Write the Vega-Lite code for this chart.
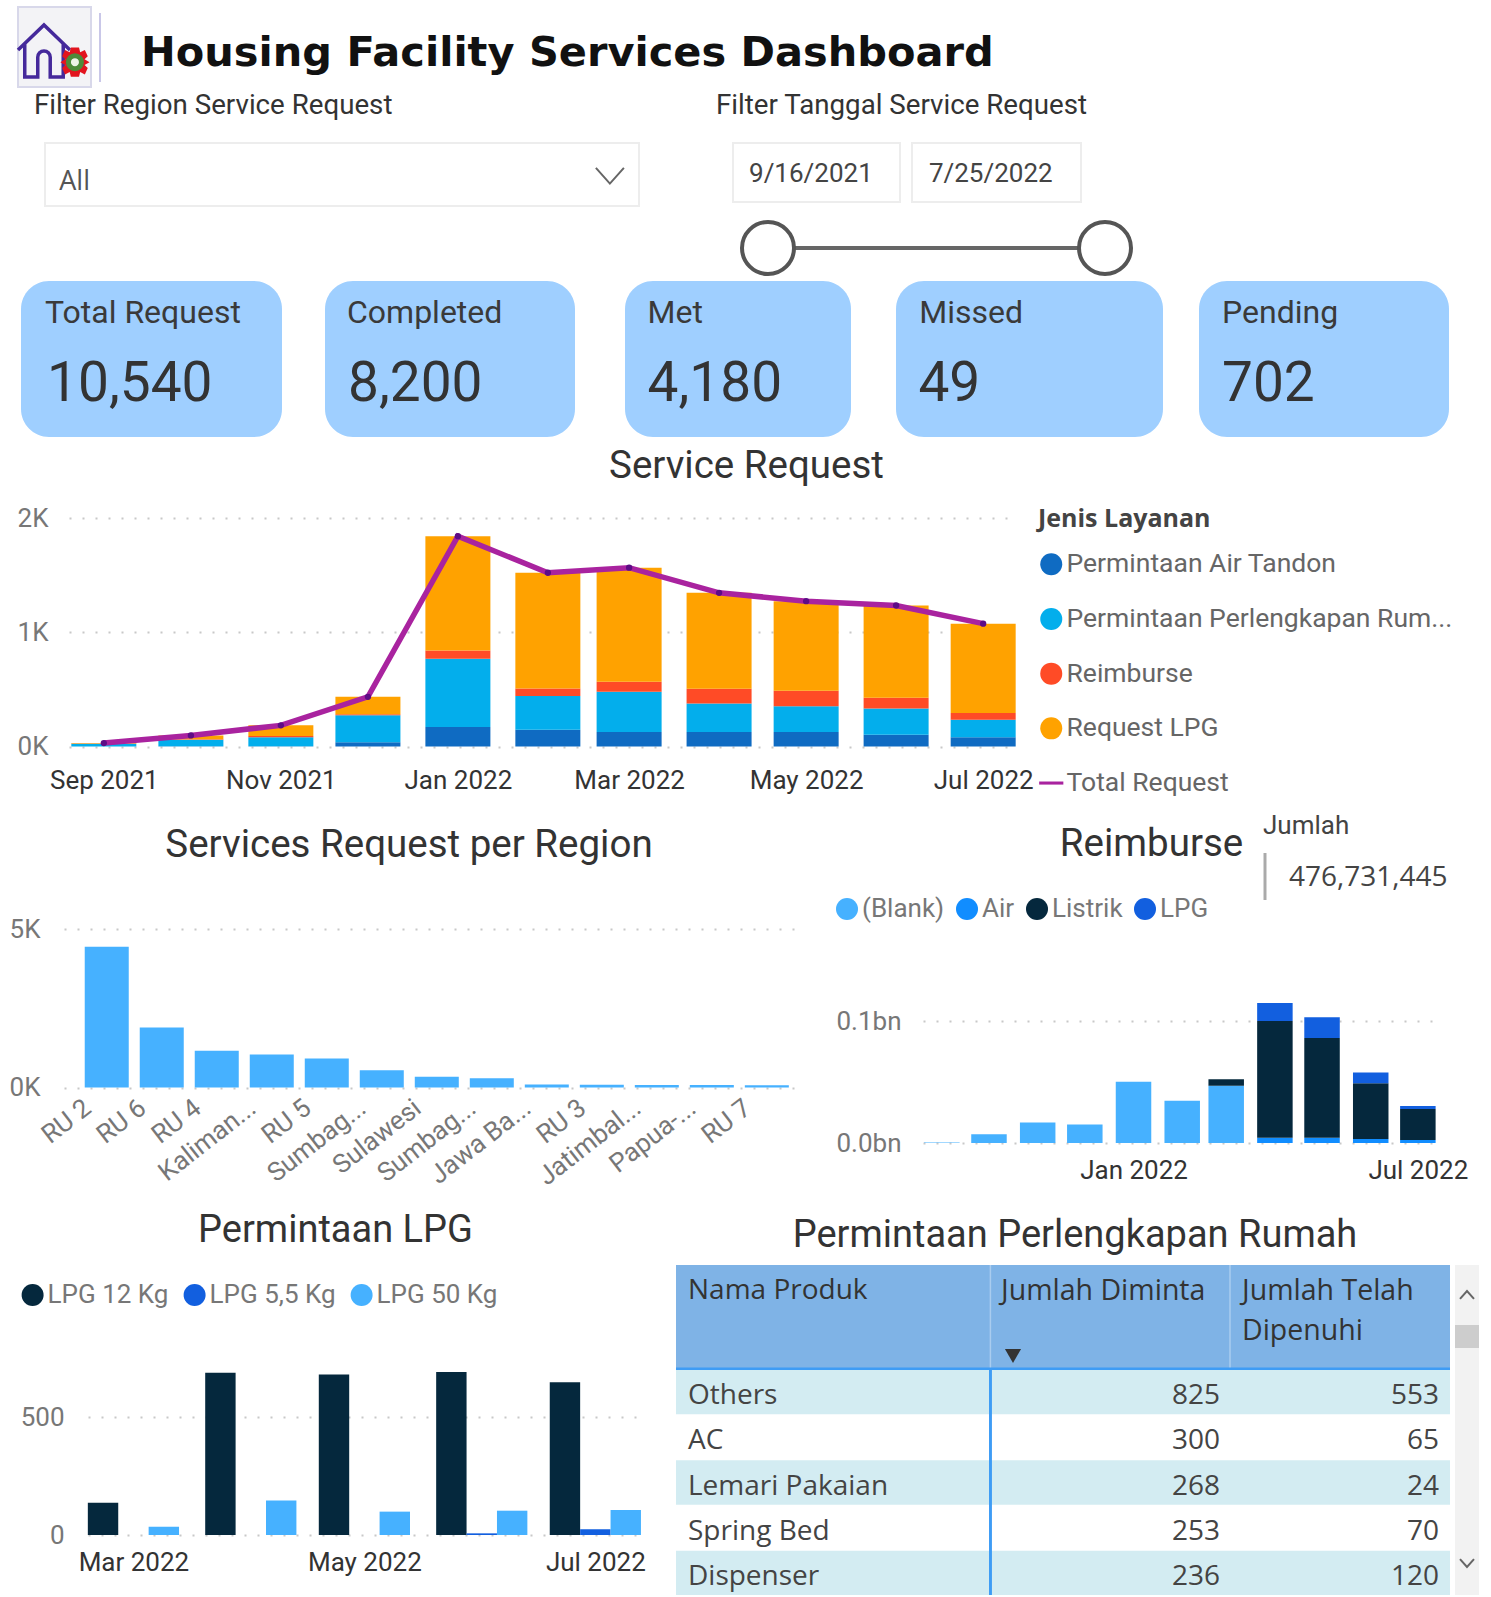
{"$schema":"https://vega.github.io/schema/vega-lite/v6.json","padding":0,"background":"white","bounds":"flush","align":"none","spacing":0,"resolve":{"scale":{"color":"independent"},"legend":{"color":"independent"}},"config":{"view":{"stroke":null},"concat":{"spacing":0},"axis":{"domain":false,"ticks":false,"title":null,"labelFont":"Roboto","labelFontSize":26,"labelColor":"#444","gridDash":[2,11],"gridColor":"#c8c8c8","gridWidth":2,"labelOverlap":false},"legend":{"labelFont":"Roboto","labelFontSize":26,"labelColor":"#666","symbolOpacity":1},"title":{"font":"Roboto","fontSize":38.5,"fontWeight":"normal","color":"#333"}},
"vconcat":[
{"width":1,"height":7,"data":{"values":[]},"mark":"point"},
{"hconcat":[{"width":18,"height":1,"data":{"values":[]},"mark":"point"},
{"width":73,"height":80,"view":{"fill":"#F3F3F6","stroke":"#D8D8EA","strokeWidth":2},"data":{"values":[{"n":"home"}]},"layer":[
{"mark":{"type":"point","shape":"M-0.5,-0.02 L0,-0.5 L0.5,-0.02 M-0.37,-0.14 V0.5 H-0.12 V0.12 A0.12,0.12 0 0 1 0.12,0.12 V0.5 H0.37 V-0.14","filled":false,"stroke":"#45299B","strokeWidth":3.5,"size":10816,"opacity":1},"encoding":{"x":{"datum":0.356,"scale":{"domain":[0,1]},"axis":null},"y":{"datum":0.55,"scale":{"domain":[1,0]},"axis":null}}},
{"mark":{"type":"point","shape":"M-0.14,-0.5 H0.14 L0.18,-0.34 L0.34,-0.42 L0.44,-0.2 L0.33,-0.1 L0.5,0 L0.33,0.1 L0.44,0.2 L0.34,0.42 L0.18,0.34 L0.14,0.5 H-0.14 L-0.18,0.34 L-0.34,0.42 L-0.44,0.2 L-0.33,0.1 L-0.5,0 L-0.33,-0.1 L-0.44,-0.2 L-0.34,-0.42 L-0.18,-0.34 Z","filled":true,"fill":"#E2141E","size":3400,"opacity":1},"encoding":{"x":{"datum":0.78,"scale":{"domain":[0,1]},"axis":null},"y":{"datum":0.69,"scale":{"domain":[1,0]},"axis":null}}},
{"mark":{"type":"point","filled":true,"fill":"#EEF3E8","stroke":"#4E8B3A","strokeWidth":5,"size":170,"opacity":1},"encoding":{"x":{"datum":0.78,"scale":{"domain":[0,1]},"axis":null},"y":{"datum":0.69,"scale":{"domain":[1,0]},"axis":null}}}]},
{"width":50,"height":1,"data":{"values":[]},"mark":"point"},
{"width":900,"height":94,"data":{"values":[{"t":"Housing Facility Services Dashboard"}]},"mark":{"type":"text","align":"left","baseline":"middle","font":"DejaVu Sans","fontWeight":"bold","fontSize":41.5,"color":"#111"},"encoding":{"text":{"field":"t"},"x":{"datum":0,"scale":{"domain":[0,1]},"axis":null},"y":{"datum":0.5,"scale":{"domain":[0,1]},"axis":null}}}],"bounds":"flush","align":"none"},
{"width":1,"height":6,"data":{"values":[]},"mark":"point"},
{"hconcat":[{"width":99,"height":1,"data":{"values":[]},"mark":"point"},{"width":2,"height":69,"view":{"fill":"#C9C7E8"},"data":{"values":[]},"mark":"point"}],"bounds":"flush","align":"none"},
{"width":1,"height":74,"data":{"values":[]},"mark":"point"},
{"hconcat":[{"width":34,"height":1,"data":{"values":[]},"mark":"point"},
{"width":682,"height":38,"data":{"values":[{"t":"Filter Region Service Request"}]},"mark":{"type":"text","align":"left","baseline":"middle","font":"Roboto","fontSize":27.7,"color":"#333"},"encoding":{"text":{"field":"t"},"x":{"datum":0,"scale":{"domain":[0,1]},"axis":null},"y":{"datum":0.5,"scale":{"domain":[0,1]},"axis":null}}},
{"width":400,"height":38,"data":{"values":[{"t":"Filter Tanggal Service Request"}]},"mark":{"type":"text","align":"left","baseline":"middle","font":"Roboto","fontSize":27.7,"color":"#333"},"encoding":{"text":{"field":"t"},"x":{"datum":0,"scale":{"domain":[0,1]},"axis":null},"y":{"datum":0.5,"scale":{"domain":[0,1]},"axis":null}}}],"bounds":"flush","align":"none"},
{"width":1,"height":56,"data":{"values":[]},"mark":"point"},
{"hconcat":[{"width":45,"height":1,"data":{"values":[]},"mark":"point"},
{"width":594,"height":63,"view":{"fill":"#fff","stroke":"#EDEDED","strokeWidth":2},"data":{"values":[{"t":"All"}]},"layer":[
{"mark":{"type":"text","align":"left","baseline":"middle","font":"Open Sans","fontSize":27,"color":"#555"},"encoding":{"text":{"field":"t"},"x":{"datum":0.024,"scale":{"domain":[0,1]},"axis":null},"y":{"datum":0.62,"scale":{"domain":[1,0]},"axis":null}}},
{"mark":{"type":"point","shape":"M-0.5,-0.28 L0,0.28 L0.5,-0.28","filled":false,"stroke":"#666","strokeWidth":2,"size":3136,"opacity":1},"encoding":{"x":{"datum":0.951,"scale":{"domain":[0,1]},"axis":null},"y":{"datum":0.52,"scale":{"domain":[1,0]},"axis":null}}}]},
{"width":94,"height":1,"data":{"values":[]},"mark":"point"},
{"width":167,"height":59,"view":{"fill":"#fff","stroke":"#EDEDED","strokeWidth":2},"data":{"values":[{"t":"9/16/2021"}]},"mark":{"type":"text","align":"left","baseline":"middle","font":"Roboto","fontSize":26,"color":"#444"},"encoding":{"text":{"field":"t"},"x":{"datum":0.096,"scale":{"domain":[0,1]},"axis":null},"y":{"datum":0.53,"scale":{"domain":[1,0]},"axis":null}}},
{"width":12,"height":1,"data":{"values":[]},"mark":"point"},
{"width":169,"height":59,"view":{"fill":"#fff","stroke":"#EDEDED","strokeWidth":2},"data":{"values":[{"t":"7/25/2022"}]},"mark":{"type":"text","align":"left","baseline":"middle","font":"Roboto","fontSize":26,"color":"#444"},"encoding":{"text":{"field":"t"},"x":{"datum":0.1,"scale":{"domain":[0,1]},"axis":null},"y":{"datum":0.53,"scale":{"domain":[1,0]},"axis":null}}}],"bounds":"flush","align":"none"},
{"width":1,"height":63,"data":{"values":[]},"mark":"point"},
{"hconcat":[{"width":768,"height":1,"data":{"values":[]},"mark":"point"},
{"width":337,"height":75,"data":{"values":[{"tanggal":"2021-09-16"},{"tanggal":"2022-07-25"}]},"layer":[
{"mark":{"type":"line","color":"#666","strokeWidth":4},"encoding":{"x":{"field":"tanggal","type":"temporal","scale":{"type":"utc","domain":["2021-09-16","2022-07-25"]},"axis":null},"y":{"datum":0.56,"scale":{"domain":[1,0]},"axis":null}}},
{"mark":{"type":"point","filled":true,"fill":"#fff","stroke":"#555","strokeWidth":4,"size":2704,"opacity":1},"encoding":{"x":{"field":"tanggal","type":"temporal","scale":{"type":"utc","domain":["2021-09-16","2022-07-25"]},"axis":null},"y":{"datum":0.56,"scale":{"domain":[1,0]},"axis":null}}}]}],"bounds":"flush","align":"none"},
{"width":1,"height":75,"data":{"values":[]},"mark":"point"},
{"hconcat":[{"width":21,"height":1,"data":{"values":[]},"mark":"point"},
{"width":261,"height":156,"view":{"fill":"#9FCFFF","cornerRadius":28},"data":{"values":[{"k":"Total Request","v":"10,540"}]},"layer":[
{"mark":{"type":"text","align":"left","baseline":"middle","font":"Roboto","fontSize":32,"color":"#3a3a3a"},"encoding":{"text":{"field":"k"},"x":{"datum":0.092,"scale":{"domain":[0,1]},"axis":null},"y":{"datum":0.205,"scale":{"domain":[1,0]},"axis":null}}},
{"mark":{"type":"text","align":"left","baseline":"middle","font":"Roboto","fontSize":55,"color":"#333"},"encoding":{"text":{"field":"v"},"x":{"datum":0.1,"scale":{"domain":[0,1]},"axis":null},"y":{"datum":0.66,"scale":{"domain":[1,0]},"axis":null}}}]},
{"width":43,"height":1,"data":{"values":[]},"mark":"point"},
{"width":250,"height":156,"view":{"fill":"#9FCFFF","cornerRadius":28},"data":{"values":[{"k":"Completed","v":"8,200"}]},"layer":[
{"mark":{"type":"text","align":"left","baseline":"middle","font":"Roboto","fontSize":32,"color":"#3a3a3a"},"encoding":{"text":{"field":"k"},"x":{"datum":0.088,"scale":{"domain":[0,1]},"axis":null},"y":{"datum":0.205,"scale":{"domain":[1,0]},"axis":null}}},
{"mark":{"type":"text","align":"left","baseline":"middle","font":"Roboto","fontSize":55,"color":"#333"},"encoding":{"text":{"field":"v"},"x":{"datum":0.092,"scale":{"domain":[0,1]},"axis":null},"y":{"datum":0.66,"scale":{"domain":[1,0]},"axis":null}}}]},
{"width":50,"height":1,"data":{"values":[]},"mark":"point"},
{"width":226,"height":156,"view":{"fill":"#9FCFFF","cornerRadius":28},"data":{"values":[{"k":"Met","v":"4,180"}]},"layer":[
{"mark":{"type":"text","align":"left","baseline":"middle","font":"Roboto","fontSize":32,"color":"#3a3a3a"},"encoding":{"text":{"field":"k"},"x":{"datum":0.1,"scale":{"domain":[0,1]},"axis":null},"y":{"datum":0.205,"scale":{"domain":[1,0]},"axis":null}}},
{"mark":{"type":"text","align":"left","baseline":"middle","font":"Roboto","fontSize":55,"color":"#333"},"encoding":{"text":{"field":"v"},"x":{"datum":0.1,"scale":{"domain":[0,1]},"axis":null},"y":{"datum":0.66,"scale":{"domain":[1,0]},"axis":null}}}]},
{"width":45,"height":1,"data":{"values":[]},"mark":"point"},
{"width":267,"height":156,"view":{"fill":"#9FCFFF","cornerRadius":28},"data":{"values":[{"k":"Missed","v":"49"}]},"layer":[
{"mark":{"type":"text","align":"left","baseline":"middle","font":"Roboto","fontSize":32,"color":"#3a3a3a"},"encoding":{"text":{"field":"k"},"x":{"datum":0.087,"scale":{"domain":[0,1]},"axis":null},"y":{"datum":0.205,"scale":{"domain":[1,0]},"axis":null}}},
{"mark":{"type":"text","align":"left","baseline":"middle","font":"Roboto","fontSize":55,"color":"#333"},"encoding":{"text":{"field":"v"},"x":{"datum":0.084,"scale":{"domain":[0,1]},"axis":null},"y":{"datum":0.66,"scale":{"domain":[1,0]},"axis":null}}}]},
{"width":36,"height":1,"data":{"values":[]},"mark":"point"},
{"width":250,"height":156,"view":{"fill":"#9FCFFF","cornerRadius":28},"data":{"values":[{"k":"Pending","v":"702"}]},"layer":[
{"mark":{"type":"text","align":"left","baseline":"middle","font":"Roboto","fontSize":32,"color":"#3a3a3a"},"encoding":{"text":{"field":"k"},"x":{"datum":0.092,"scale":{"domain":[0,1]},"axis":null},"y":{"datum":0.205,"scale":{"domain":[1,0]},"axis":null}}},
{"mark":{"type":"text","align":"left","baseline":"middle","font":"Roboto","fontSize":55,"color":"#333"},"encoding":{"text":{"field":"v"},"x":{"datum":0.092,"scale":{"domain":[0,1]},"axis":null},"y":{"datum":0.66,"scale":{"domain":[1,0]},"axis":null}}}]}],"bounds":"flush","align":"none"},
{"width":1,"height":237,"data":{"values":[]},"mark":"point"},
{"hconcat":[{"width":69,"height":1,"data":{"values":[]},"mark":"point"},
{"width":949,"height":228.5,"title":{"text":"Service Request","anchor":"middle","dx":203,"offset":19},"layer":[
{"data":{"values":[
{"bulan":"2021-09-01","jenis":"Permintaan Air Tandon","jumlah":1},{"bulan":"2021-09-01","jenis":"Permintaan Perlengkapan Rumah","jumlah":24},{"bulan":"2021-09-01","jenis":"Reimburse","jumlah":1},{"bulan":"2021-09-01","jenis":"Request LPG","jumlah":4},
{"bulan":"2021-10-01","jenis":"Permintaan Air Tandon","jumlah":2},{"bulan":"2021-10-01","jenis":"Permintaan Perlengkapan Rumah","jumlah":58},{"bulan":"2021-10-01","jenis":"Reimburse","jumlah":3},{"bulan":"2021-10-01","jenis":"Request LPG","jumlah":34},
{"bulan":"2021-11-01","jenis":"Permintaan Air Tandon","jumlah":3},{"bulan":"2021-11-01","jenis":"Permintaan Perlengkapan Rumah","jumlah":79},{"bulan":"2021-11-01","jenis":"Reimburse","jumlah":9},{"bulan":"2021-11-01","jenis":"Request LPG","jumlah":94},
{"bulan":"2021-12-01","jenis":"Permintaan Air Tandon","jumlah":38},{"bulan":"2021-12-01","jenis":"Permintaan Perlengkapan Rumah","jumlah":235},{"bulan":"2021-12-01","jenis":"Reimburse","jumlah":9},{"bulan":"2021-12-01","jenis":"Request LPG","jumlah":153},
{"bulan":"2022-01-01","jenis":"Permintaan Air Tandon","jumlah":170},{"bulan":"2022-01-01","jenis":"Permintaan Perlengkapan Rumah","jumlah":597},{"bulan":"2022-01-01","jenis":"Reimburse","jumlah":73},{"bulan":"2022-01-01","jenis":"Request LPG","jumlah":1001},
{"bulan":"2022-02-01","jenis":"Permintaan Air Tandon","jumlah":147},{"bulan":"2022-02-01","jenis":"Permintaan Perlengkapan Rumah","jumlah":294},{"bulan":"2022-02-01","jenis":"Reimburse","jumlah":67},{"bulan":"2022-02-01","jenis":"Request LPG","jumlah":1013},
{"bulan":"2022-03-01","jenis":"Permintaan Air Tandon","jumlah":126},{"bulan":"2022-03-01","jenis":"Permintaan Perlengkapan Rumah","jumlah":353},{"bulan":"2022-03-01","jenis":"Reimburse","jumlah":88},{"bulan":"2022-03-01","jenis":"Request LPG","jumlah":998},
{"bulan":"2022-04-01","jenis":"Permintaan Air Tandon","jumlah":126},{"bulan":"2022-04-01","jenis":"Permintaan Perlengkapan Rumah","jumlah":250},{"bulan":"2022-04-01","jenis":"Reimburse","jumlah":129},{"bulan":"2022-04-01","jenis":"Request LPG","jumlah":840},
{"bulan":"2022-05-01","jenis":"Permintaan Air Tandon","jumlah":126},{"bulan":"2022-05-01","jenis":"Permintaan Perlengkapan Rumah","jumlah":226},{"bulan":"2022-05-01","jenis":"Reimburse","jumlah":136},{"bulan":"2022-05-01","jenis":"Request LPG","jumlah":784},
{"bulan":"2022-06-01","jenis":"Permintaan Air Tandon","jumlah":103},{"bulan":"2022-06-01","jenis":"Permintaan Perlengkapan Rumah","jumlah":229},{"bulan":"2022-06-01","jenis":"Reimburse","jumlah":94},{"bulan":"2022-06-01","jenis":"Request LPG","jumlah":808},
{"bulan":"2022-07-01","jenis":"Permintaan Air Tandon","jumlah":82},{"bulan":"2022-07-01","jenis":"Permintaan Perlengkapan Rumah","jumlah":153},{"bulan":"2022-07-01","jenis":"Reimburse","jumlah":59},{"bulan":"2022-07-01","jenis":"Request LPG","jumlah":781}]},
"transform":[{"calculate":"indexof(['Permintaan Air Tandon','Permintaan Perlengkapan Rumah','Reimburse','Request LPG'],datum.jenis)","as":"urut"}],
"mark":{"type":"bar","width":65},
"encoding":{"x":{"field":"bulan","type":"temporal","scale":{"type":"utc","padding":0,"domain":["2021-08-20","2022-07-13"]},"axis":{"format":"%b %Y","tickCount":{"interval":"month","step":2},"grid":false,"labelPadding":21,"labelColor":"#333"}},
"y":{"field":"jumlah","type":"quantitative","aggregate":"sum","stack":"zero","scale":{"domain":[0,2000],"nice":false},"axis":{"values":[0,1000,2000],"grid":true,"labelExpr":"datum.value/1000+'K'","labelColor":"#777","labelPadding":21}},
"order":{"field":"urut","type":"quantitative"},
"color":{"field":"jenis","type":"nominal","scale":{"domain":["Permintaan Air Tandon","Permintaan Perlengkapan Rumah","Reimburse","Request LPG","Total Request"],"range":["#0F6BC2","#03AEEC","#FF4B26","#FFA200","#A9239F"]},"legend":{"orient":"none","legendX":1038,"legendY":-11,"title":"Jenis Layanan","titleFont":"Open Sans","titleFontWeight":"bold","titleFontSize":25,"titleColor":"#444","titlePadding":19,"labelFontSize":26.5,"labelOffset":2,"labelLimit":600,"rowPadding":27.7,"symbolSize":484,"symbolStrokeWidth":0,"labelExpr":"datum.label=='Permintaan Perlengkapan Rumah'?'Permintaan Perlengkapan Rum...':datum.label","encode":{"symbols":{"update":{"shape":{"signal":"datum.value=='Total Request'?'M-1.1,-0.14H1.1V0.14H-1.1Z':'circle'"}}}}}}}},
{"data":{"values":[{"bulan":"2021-09-01","jenis":"Total Request","total":30},{"bulan":"2021-10-01","jenis":"Total Request","total":97},{"bulan":"2021-11-01","jenis":"Total Request","total":185},{"bulan":"2021-12-01","jenis":"Total Request","total":435},{"bulan":"2022-01-01","jenis":"Total Request","total":1841},{"bulan":"2022-02-01","jenis":"Total Request","total":1521},{"bulan":"2022-03-01","jenis":"Total Request","total":1565},{"bulan":"2022-04-01","jenis":"Total Request","total":1345},{"bulan":"2022-05-01","jenis":"Total Request","total":1272},{"bulan":"2022-06-01","jenis":"Total Request","total":1234},{"bulan":"2022-07-01","jenis":"Total Request","total":1075}]},
"layer":[{"mark":{"type":"line","strokeWidth":5.5},"encoding":{"x":{"field":"bulan","type":"temporal"},"y":{"field":"total","type":"quantitative"},"color":{"field":"jenis","type":"nominal"}}},
{"mark":{"type":"point","filled":true,"size":40,"color":"#5D0C86","opacity":1},"encoding":{"x":{"field":"bulan","type":"temporal"},"y":{"field":"total","type":"quantitative"}}}]}]}],"bounds":"flush","align":"none"},
{"width":1,"height":288,"data":{"values":[]},"mark":"point"},
{"hconcat":[{"width":1263,"height":1,"data":{"values":[]},"mark":"point"},
{"width":228,"height":100,"data":{"values":[{"k":"Jumlah","v":"476,731,445"}]},"layer":[
{"mark":{"type":"text","align":"left","baseline":"middle","font":"Roboto","fontSize":26,"color":"#444"},"encoding":{"text":{"field":"k"},"x":{"datum":0,"scale":{"domain":[0,228]},"axis":null},"y":{"datum":20,"scale":{"domain":[100,0]},"axis":null}}},
{"mark":{"type":"text","align":"left","baseline":"middle","font":"Open Sans","fontSize":28,"color":"#444"},"encoding":{"text":{"field":"v"},"x":{"datum":26,"scale":{"domain":[0,228]},"axis":null},"y":{"datum":72,"scale":{"domain":[100,0]},"axis":null}}},
{"mark":{"type":"rule","color":"#aaa","strokeWidth":3},"encoding":{"x":{"datum":2,"scale":{"domain":[0,228]},"axis":null},"y":{"datum":47,"scale":{"domain":[100,0]},"axis":null},"y2":{"datum":94}}}]}],"bounds":"flush","align":"none"},
{"width":1,"height":123,"data":{"values":[]},"mark":"point"},
{"hconcat":[{"width":64,"height":1,"data":{"values":[]},"mark":"point"},
{"width":736,"height":158.5,"title":{"text":"Services Request per Region","anchor":"middle","dx":-23,"offset":51},"data":{"values":[{"region":"RU 2","jumlah":4442},{"region":"RU 6","jumlah":1895},{"region":"RU 4","jumlah":1158},{"region":"Kalimantan","jumlah":1042},{"region":"RU 5","jumlah":916},{"region":"Sumbagsel","jumlah":547},{"region":"Sulawesi","jumlah":337},{"region":"Sumbagut","jumlah":295},{"region":"Jawa Bagian Barat","jumlah":95},{"region":"RU 3","jumlah":85},{"region":"Jatimbalinus","jumlah":80},{"region":"Papua-Maluku","jumlah":75},{"region":"RU 7","jumlah":70}]},
"mark":{"type":"bar","color":"#46B1FF"},
"encoding":{"x":{"field":"region","type":"nominal","sort":null,"scale":{"paddingInner":0.2,"paddingOuter":0.29,"align":0.65},"axis":{"labelAngle":-38,"labelAlign":"right","labelBaseline":"middle","labelColor":"#777","labelPadding":17,"labelOffset":-19,"labelExpr":"{'Kalimantan':'Kaliman...','Sumbagsel':'Sumbag...','Sumbagut':'Sumbag...','Jawa Bagian Barat':'Jawa Ba...','Jatimbalinus':'Jatimbal...','Papua-Maluku':'Papua-...'}[datum.label]||datum.label"}},
"y":{"field":"jumlah","type":"quantitative","scale":{"domain":[0,5000],"nice":false},"axis":{"values":[0,5000],"grid":true,"labelExpr":"datum.value/1000+'K'","labelColor":"#777","labelPadding":24}}}}],"bounds":"flush","align":"none"},
{"width":1,"height":92,"data":{"values":[]},"mark":"point"},
{"hconcat":[{"width":923,"height":1,"data":{"values":[]},"mark":"point"},
{"width":509,"height":122,"title":{"text":"Reimburse","anchor":"middle","dx":-26,"offset":138},"data":{"values":[
{"bulan":"2021-09-01","jenis":"(Blank)","nilai":500000},{"bulan":"2021-10-01","jenis":"(Blank)","nilai":7100000},{"bulan":"2021-11-01","jenis":"(Blank)","nilai":16800000},{"bulan":"2021-12-01","jenis":"(Blank)","nilai":15100000},{"bulan":"2022-01-01","jenis":"(Blank)","nilai":50300000},{"bulan":"2022-02-01","jenis":"(Blank)","nilai":34600000},{"bulan":"2022-03-01","jenis":"(Blank)","nilai":47000000},{"bulan":"2022-03-01","jenis":"Listrik","nilai":5200000},
{"bulan":"2022-04-01","jenis":"Air","nilai":4400000},{"bulan":"2022-04-01","jenis":"Listrik","nilai":95600000},{"bulan":"2022-04-01","jenis":"LPG","nilai":14800000},
{"bulan":"2022-05-01","jenis":"Air","nilai":4400000},{"bulan":"2022-05-01","jenis":"Listrik","nilai":81600000},{"bulan":"2022-05-01","jenis":"LPG","nilai":17000000},
{"bulan":"2022-06-01","jenis":"Air","nilai":3300000},{"bulan":"2022-06-01","jenis":"Listrik","nilai":45600000},{"bulan":"2022-06-01","jenis":"LPG","nilai":8800000},
{"bulan":"2022-07-01","jenis":"Air","nilai":2500000},{"bulan":"2022-07-01","jenis":"Listrik","nilai":25300000},{"bulan":"2022-07-01","jenis":"LPG","nilai":2500000}]},
"transform":[{"calculate":"indexof(['(Blank)','Air','Listrik','LPG'],datum.jenis)","as":"urut"}],
"mark":{"type":"bar","width":35.5},
"encoding":{"x":{"field":"bulan","type":"temporal","scale":{"type":"utc","padding":0,"domain":["2021-08-20","2022-07-10"]},"axis":{"format":"%b %Y","tickCount":{"interval":"month","step":6},"grid":false,"labelPadding":14,"labelColor":"#333"}},
"y":{"field":"nilai","type":"quantitative","aggregate":"sum","stack":"zero","scale":{"domain":[0,100000000],"nice":false},"axis":{"values":[0,100000000],"grid":true,"labelExpr":"format(datum.value/1000000000,'.1f')+'bn'","labelColor":"#777","labelPadding":22}},
"order":{"field":"urut","type":"quantitative"},
"color":{"field":"jenis","type":"nominal","scale":{"domain":["(Blank)","Air","Listrik","LPG"],"range":["#46B1FF","#118DFF","#05283D","#125FDF"]},"legend":{"orient":"none","direction":"horizontal","columns":4,"legendX":834,"legendY":-125,"title":null,"labelOffset":2,"columnPadding":9,"symbolType":"circle","symbolSize":484,"symbolStrokeWidth":0,"labelColor":"#777"}}}}],"bounds":"flush","align":"none"},
{"width":1,"height":244,"data":{"values":[]},"mark":"point"},
{"hconcat":[{"width":676,"height":1,"data":{"values":[]},"mark":"point"},
{"width":774,"height":104,"title":{"text":"Permintaan Perlengkapan Rumah","anchor":"middle","dx":12,"offset":9,"fontSize":38},"view":{"fill":"#7FB3E6"},"layer":[
{"data":{"values":[{"t":"Nama Produk"}]},"mark":{"type":"text","align":"left","baseline":"middle","font":"Open Sans","fontSize":28,"color":"#333"},"encoding":{"text":{"field":"t"},"x":{"datum":12,"scale":{"domain":[0,774]},"axis":null},"y":{"datum":26,"scale":{"domain":[104,0]},"axis":null}}},
{"data":{"values":[{"t":"Jumlah Diminta"}]},"mark":{"type":"text","align":"left","baseline":"middle","font":"Open Sans","fontSize":28.5,"color":"#333"},"encoding":{"text":{"field":"t"},"x":{"datum":325,"scale":{"domain":[0,774]},"axis":null},"y":{"datum":26,"scale":{"domain":[104,0]},"axis":null}}},
{"data":{"values":[{"t":"Jumlah Telah"}]},"mark":{"type":"text","align":"left","baseline":"middle","font":"Open Sans","fontSize":28.5,"color":"#333"},"encoding":{"text":{"field":"t"},"x":{"datum":566,"scale":{"domain":[0,774]},"axis":null},"y":{"datum":26,"scale":{"domain":[104,0]},"axis":null}}},
{"data":{"values":[{"t":"Dipenuhi"}]},"mark":{"type":"text","align":"left","baseline":"middle","font":"Open Sans","fontSize":28.5,"color":"#333"},"encoding":{"text":{"field":"t"},"x":{"datum":566,"scale":{"domain":[0,774]},"axis":null},"y":{"datum":66,"scale":{"domain":[104,0]},"axis":null}}},
{"data":{"values":[{"t":"sort"}]},"mark":{"type":"point","shape":"triangle-down","filled":true,"color":"#333","size":260,"opacity":1},"encoding":{"x":{"datum":337,"scale":{"domain":[0,774]},"axis":null},"y":{"datum":91,"scale":{"domain":[104,0]},"axis":null}}},
{"data":{"values":[{"k":314.4},{"k":554}]},"mark":{"type":"rule","color":"#A9CCEF","strokeWidth":1.5},"encoding":{"x":{"field":"k","type":"quantitative","scale":{"domain":[0,774]},"axis":null}}},
{"data":{"values":[{"k":104}]},"mark":{"type":"rule","color":"#3E9CF5","strokeWidth":3},"encoding":{"y":{"field":"k","type":"quantitative","scale":{"domain":[104,0]},"axis":null}}}]},
{"width":5,"height":1,"data":{"values":[]},"mark":"point"},
{"width":24,"height":330,"view":{"fill":"#F2F2F2"},"layer":[
{"data":{"values":[{"n":"thumb"}]},"mark":{"type":"rect","color":"#CDCDCD"},"encoding":{"y":{"datum":60,"scale":{"domain":[330,0]},"axis":null},"y2":{"datum":83}}},
{"data":{"values":[{"n":"up"}]},"mark":{"type":"point","shape":"M-0.5,0.28 L0,-0.28 L0.5,0.28","filled":false,"stroke":"#666","strokeWidth":2,"size":784,"opacity":1},"encoding":{"y":{"datum":30,"scale":{"domain":[330,0]},"axis":null}}},
{"data":{"values":[{"n":"down"}]},"mark":{"type":"point","shape":"M-0.5,-0.28 L0,0.28 L0.5,-0.28","filled":false,"stroke":"#666","strokeWidth":2,"size":784,"opacity":1},"encoding":{"y":{"datum":298,"scale":{"domain":[330,0]},"axis":null}}}]}],"bounds":"flush","align":"none"},
{"width":1,"height":93,"data":{"values":[]},"mark":"point"},
{"hconcat":[{"width":88,"height":1,"data":{"values":[]},"mark":"point"},
{"width":549,"height":177,"title":{"text":"Permintaan LPG","anchor":"middle","dx":-27,"offset":108,"fontSize":38},"data":{"values":[
{"bulan":"2022-03-01","jenis":"LPG 12 Kg","jumlah":137},{"bulan":"2022-03-01","jenis":"LPG 50 Kg","jumlah":35},
{"bulan":"2022-04-01","jenis":"LPG 12 Kg","jumlah":687},{"bulan":"2022-04-01","jenis":"LPG 50 Kg","jumlah":146},
{"bulan":"2022-05-01","jenis":"LPG 12 Kg","jumlah":680},{"bulan":"2022-05-01","jenis":"LPG 50 Kg","jumlah":99},
{"bulan":"2022-06-01","jenis":"LPG 12 Kg","jumlah":691},{"bulan":"2022-06-01","jenis":"LPG 5,5 Kg","jumlah":7},{"bulan":"2022-06-01","jenis":"LPG 50 Kg","jumlah":103},
{"bulan":"2022-07-01","jenis":"LPG 12 Kg","jumlah":647},{"bulan":"2022-07-01","jenis":"LPG 5,5 Kg","jumlah":24},{"bulan":"2022-07-01","jenis":"LPG 50 Kg","jumlah":106}]},
"encoding":{"x":{"field":"bulan","type":"temporal","scale":{"type":"utc","padding":0,"domain":["2022-02-17","2022-07-12"]},"axis":{"format":"%b %Y","tickCount":{"interval":"month","step":2},"grid":false,"labelPadding":14,"labelColor":"#333"}},
"y":{"field":"jumlah","type":"quantitative","stack":null,"scale":{"domain":[0,750],"nice":false},"axis":{"values":[0,500],"grid":true,"labelColor":"#777","labelPadding":24}},
"color":{"field":"jenis","type":"nominal","scale":{"domain":["LPG 12 Kg","LPG 5,5 Kg","LPG 50 Kg"],"range":["#05283D","#125FDF","#46B1FF"]},"legend":{"orient":"none","direction":"horizontal","columns":3,"legendX":19.6,"legendY":-76,"title":null,"labelOffset":2,"columnPadding":13,"symbolType":"circle","symbolSize":484,"symbolStrokeWidth":0,"labelColor":"#777"}}},
"layer":[
{"transform":[{"filter":"datum.jenis=='LPG 12 Kg'"}],"mark":{"type":"bar","width":30.4,"xOffset":-30.4}},
{"transform":[{"filter":"datum.jenis=='LPG 5,5 Kg'"}],"mark":{"type":"bar","width":30.4}},
{"transform":[{"filter":"datum.jenis=='LPG 50 Kg'"}],"mark":{"type":"bar","width":30.4,"xOffset":30.4}}]}],"bounds":"flush","align":"none"},
{"width":1,"height":12,"data":{"values":[]},"mark":"point"},
{"hconcat":[{"width":676,"height":1,"data":{"values":[]},"mark":"point"},
{"width":774,"height":225,"data":{"values":[{"produk":"Others","diminta":825,"dipenuhi":553},{"produk":"AC","diminta":300,"dipenuhi":65},{"produk":"Lemari Pakaian","diminta":268,"dipenuhi":24},{"produk":"Spring Bed","diminta":253,"dipenuhi":70},{"produk":"Dispenser","diminta":236,"dipenuhi":120}]},
"layer":[
{"mark":{"type":"rect"},"encoding":{"y":{"field":"produk","type":"nominal","sort":null,"axis":null,"scale":{"paddingInner":0.02,"paddingOuter":0}},"x":{"datum":0,"scale":{"domain":[0,774]},"axis":null},"x2":{"datum":774},"color":{"condition":{"test":"indexof(['Others','Lemari Pakaian','Dispenser'],datum.produk)>=0","value":"#D3ECF2"},"value":"#ffffff"}}},
{"mark":{"type":"text","align":"left","baseline":"middle","dy":4,"font":"Open Sans","fontSize":28,"color":"#444"},"encoding":{"y":{"field":"produk","type":"nominal","sort":null,"axis":null},"x":{"datum":12,"scale":{"domain":[0,774]},"axis":null},"text":{"field":"produk"}}},
{"mark":{"type":"text","align":"right","baseline":"middle","dy":4,"font":"Open Sans","fontSize":28,"color":"#444"},"encoding":{"y":{"field":"produk","type":"nominal","sort":null,"axis":null},"x":{"datum":544,"scale":{"domain":[0,774]},"axis":null},"text":{"field":"diminta"}}},
{"mark":{"type":"text","align":"right","baseline":"middle","dy":4,"font":"Open Sans","fontSize":28,"color":"#444"},"encoding":{"y":{"field":"produk","type":"nominal","sort":null,"axis":null},"x":{"datum":763,"scale":{"domain":[0,774]},"axis":null},"text":{"field":"dipenuhi"}}},
{"mark":{"type":"rule","color":"#3E9CF5","strokeWidth":2},"encoding":{"x":{"datum":314.4,"scale":{"domain":[0,774]},"axis":null}}}]}],"bounds":"flush","align":"none"}
]}
